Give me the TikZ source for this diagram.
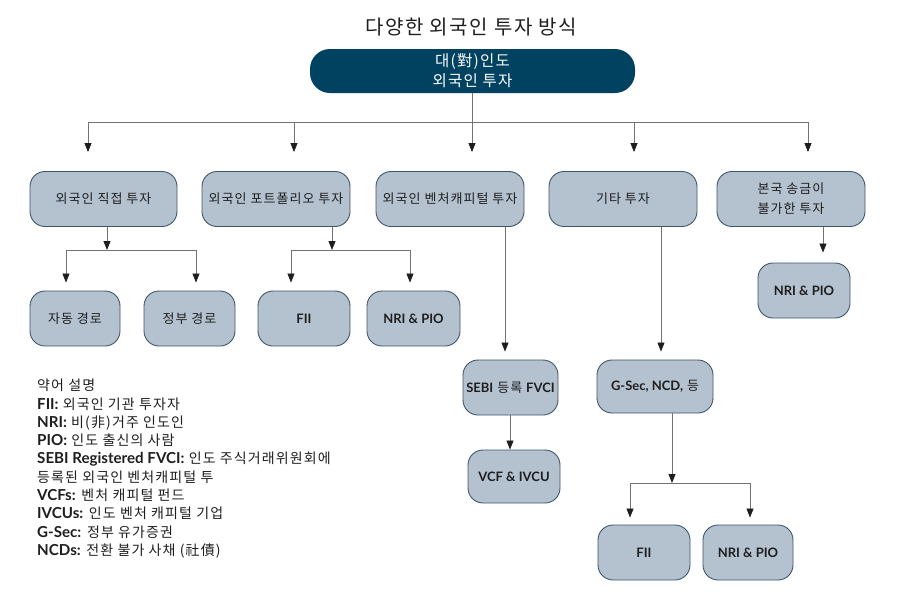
\documentclass[tikz,border=0pt]{standalone}
\usepackage{fontspec}
\setmainfont{Noto Sans CJK KR}[LetterSpace=8]
\newfontfamily\latf{Lato}[Scale=1.0]
\newfontfamily\latl{Lato}[Scale=1.08]
\usetikzlibrary{arrows.meta}
\definecolor{boxfill}{RGB}{180,194,208}
\definecolor{boxline}{RGB}{62,86,106}
\definecolor{topfill}{RGB}{0,66,96}
\definecolor{linegray}{RGB}{115,115,115}
\definecolor{txt}{RGB}{30,30,30}
\newcommand\LB[1]{{\latf\bfseries #1}}
\newcommand\LL[1]{{\latl\bfseries #1}}
\begin{document}
\begin{tikzpicture}[x=1pt,y=-1pt,
  box/.style={draw=boxline, line width=0.9pt, fill=boxfill, rounded corners=15pt,
    minimum height=55pt, inner sep=2pt, font=\fontsize{13}{20}\selectfont, text=txt, align=center},
  topbox/.style={fill=topfill, rounded corners=20pt, minimum width=325pt, minimum height=44pt,
    text=white, font=\fontsize{15.5}{20}\selectfont, align=center, inner sep=0pt},
  conn/.style={draw=linegray, line width=0.8pt},
  arr/.style={conn, -{Triangle[length=9pt,width=7pt,color=txt]}},
]
\useasboundingbox (0,0) rectangle (900,600);

% title and root
\node[font=\fontsize{20}{24}\selectfont, text=txt] (title) at (471,27) {다양한 외국인 투자 방식};
\node[topbox] (top) at (472.5,71) {대(對)인도\\외국인 투자};

% level 1
\node[box, minimum width=147pt] (d1) at (103.5,199) {외국인 직접 투자};
\node[box, minimum width=148pt] (d2) at (276,199) {외국인 포트폴리오 투자};
\node[box, minimum width=148pt] (d3) at (450,199) {외국인 벤처캐피털 투자};
\node[box, minimum width=148pt] (d4) at (623,199) {기타 투자};
\node[box, minimum width=148pt] (d5) at (791,199) {본국 송금이\\불가한 투자};

% level 2
\node[box, minimum width=90pt] (a1) at (75,318.5) {자동 경로};
\node[box, minimum width=91pt] (a2) at (189.5,318.5) {정부 경로};
\node[box, minimum width=92pt] (b1) at (304,318.5) {\LB{FII}};
\node[box, minimum width=93pt] (b2) at (413.5,318.5) {\LB{NRI \& PIO}};
\node[box, minimum width=92pt] (r1) at (804,290.5) {\LB{NRI \& PIO}};
\node[box, minimum width=95pt] (s1) at (510.5,387.5) {\LB{SEBI} 등록 \LB{FVCI}};
\node[box, minimum width=92pt, minimum height=53pt] (s2) at (514,476.5) {\LB{VCF \& IVCU}};
\node[box, minimum width=116pt, minimum height=53pt] (g1) at (655,386.5) {\LB{G-Sec, NCD,} 등};
\node[box, minimum width=92pt] (g2) at (644,552.5) {\LB{FII}};
\node[box, minimum width=90pt] (g3) at (748,552.5) {\LB{NRI \& PIO}};

% root bus
\coordinate (bus) at (472,122);
\coordinate (busL) at (88,122);
\coordinate (t2) at (294,122);
\coordinate (t4) at (634,122);
\coordinate (busR) at (808,122);
\draw[conn] (top.south -| bus) -- (bus);
\draw[conn] (busL) -- (busR);
\foreach \t/\d in {busL/d1, t2/d2, bus/d3, t4/d4, busR/d5}
  \draw[arr, shorten >=19pt] (\t) -- (\t |- \d.north);

% direct investment
\coordinate (j1) at (107,250);
\coordinate (j1L) at (66,250);
\coordinate (j1R) at (196,250);
\draw[arr] (d1.south -| j1) -- (j1);
\draw[conn] (j1L) -- (j1R);
\draw[arr, shorten >=8pt] (j1L) -- (j1L |- a1.north);
\draw[arr, shorten >=8pt] (j1R) -- (j1R |- a2.north);

% portfolio
\coordinate (j2) at (332,250);
\coordinate (j2L) at (291,250);
\coordinate (j2R) at (410,250);
\draw[arr] (d2.south -| j2) -- (j2);
\draw[conn] (j2L) -- (j2R);
\draw[arr, shorten >=8pt] (j2L) -- (j2L |- b1.north);
\draw[arr, shorten >=8pt] (j2R) -- (j2R |- b2.north);

% venture
\coordinate (vx) at (505,227);
\draw[arr, shorten >=8pt] (d3.south -| vx) -- (vx |- s1.north);
\coordinate (sx) at (510,415);
\draw[arr] (s1.south -| sx) -- (sx |- s2.north);

% other
\coordinate (ox) at (661,227);
\draw[arr, shorten >=8pt] (d4.south -| ox) -- (ox |- g1.north);
\coordinate (gj) at (672,483);
\coordinate (gjL) at (630,483);
\coordinate (gjR) at (750,483);
\draw[arr] (g1.south -| gj) -- (gj);
\draw[conn] (gjL) -- (gjR);
\draw[arr, shorten >=7pt] (gjL) -- (gjL |- g2.north);
\draw[arr, shorten >=7pt] (gjR) -- (gjR |- g3.north);

% non-repatriable
\coordinate (rx) at (823,227);
\draw[arr, shorten >=10pt] (d5.south -| rx) -- (rx |- r1.north);

% legend
\node[anchor=north west, align=left, inner sep=0pt, text=txt,
  font=\fontsize{14}{18.3}\selectfont] (legend) at (37,379) {%
약어 설명\\
\LL{FII:} 외국인 기관 투자자\\
\LL{NRI:} 비(非)거주 인도인\\
\LL{PIO:} 인도 출신의 사람\\
\LL{SEBI Registered FVCI:} 인도 주식거래위원회에\\
등록된 외국인 벤처캐피털 투\\
\LL{VCFs:} 벤처 캐피털 펀드\\
\LL{IVCUs:} 인도 벤처 캐피털 기업\\
\LL{G-Sec:} 정부 유가증권\\
\LL{NCDs:} 전환 불가 사채 (社債)};
\end{tikzpicture}
\end{document}
